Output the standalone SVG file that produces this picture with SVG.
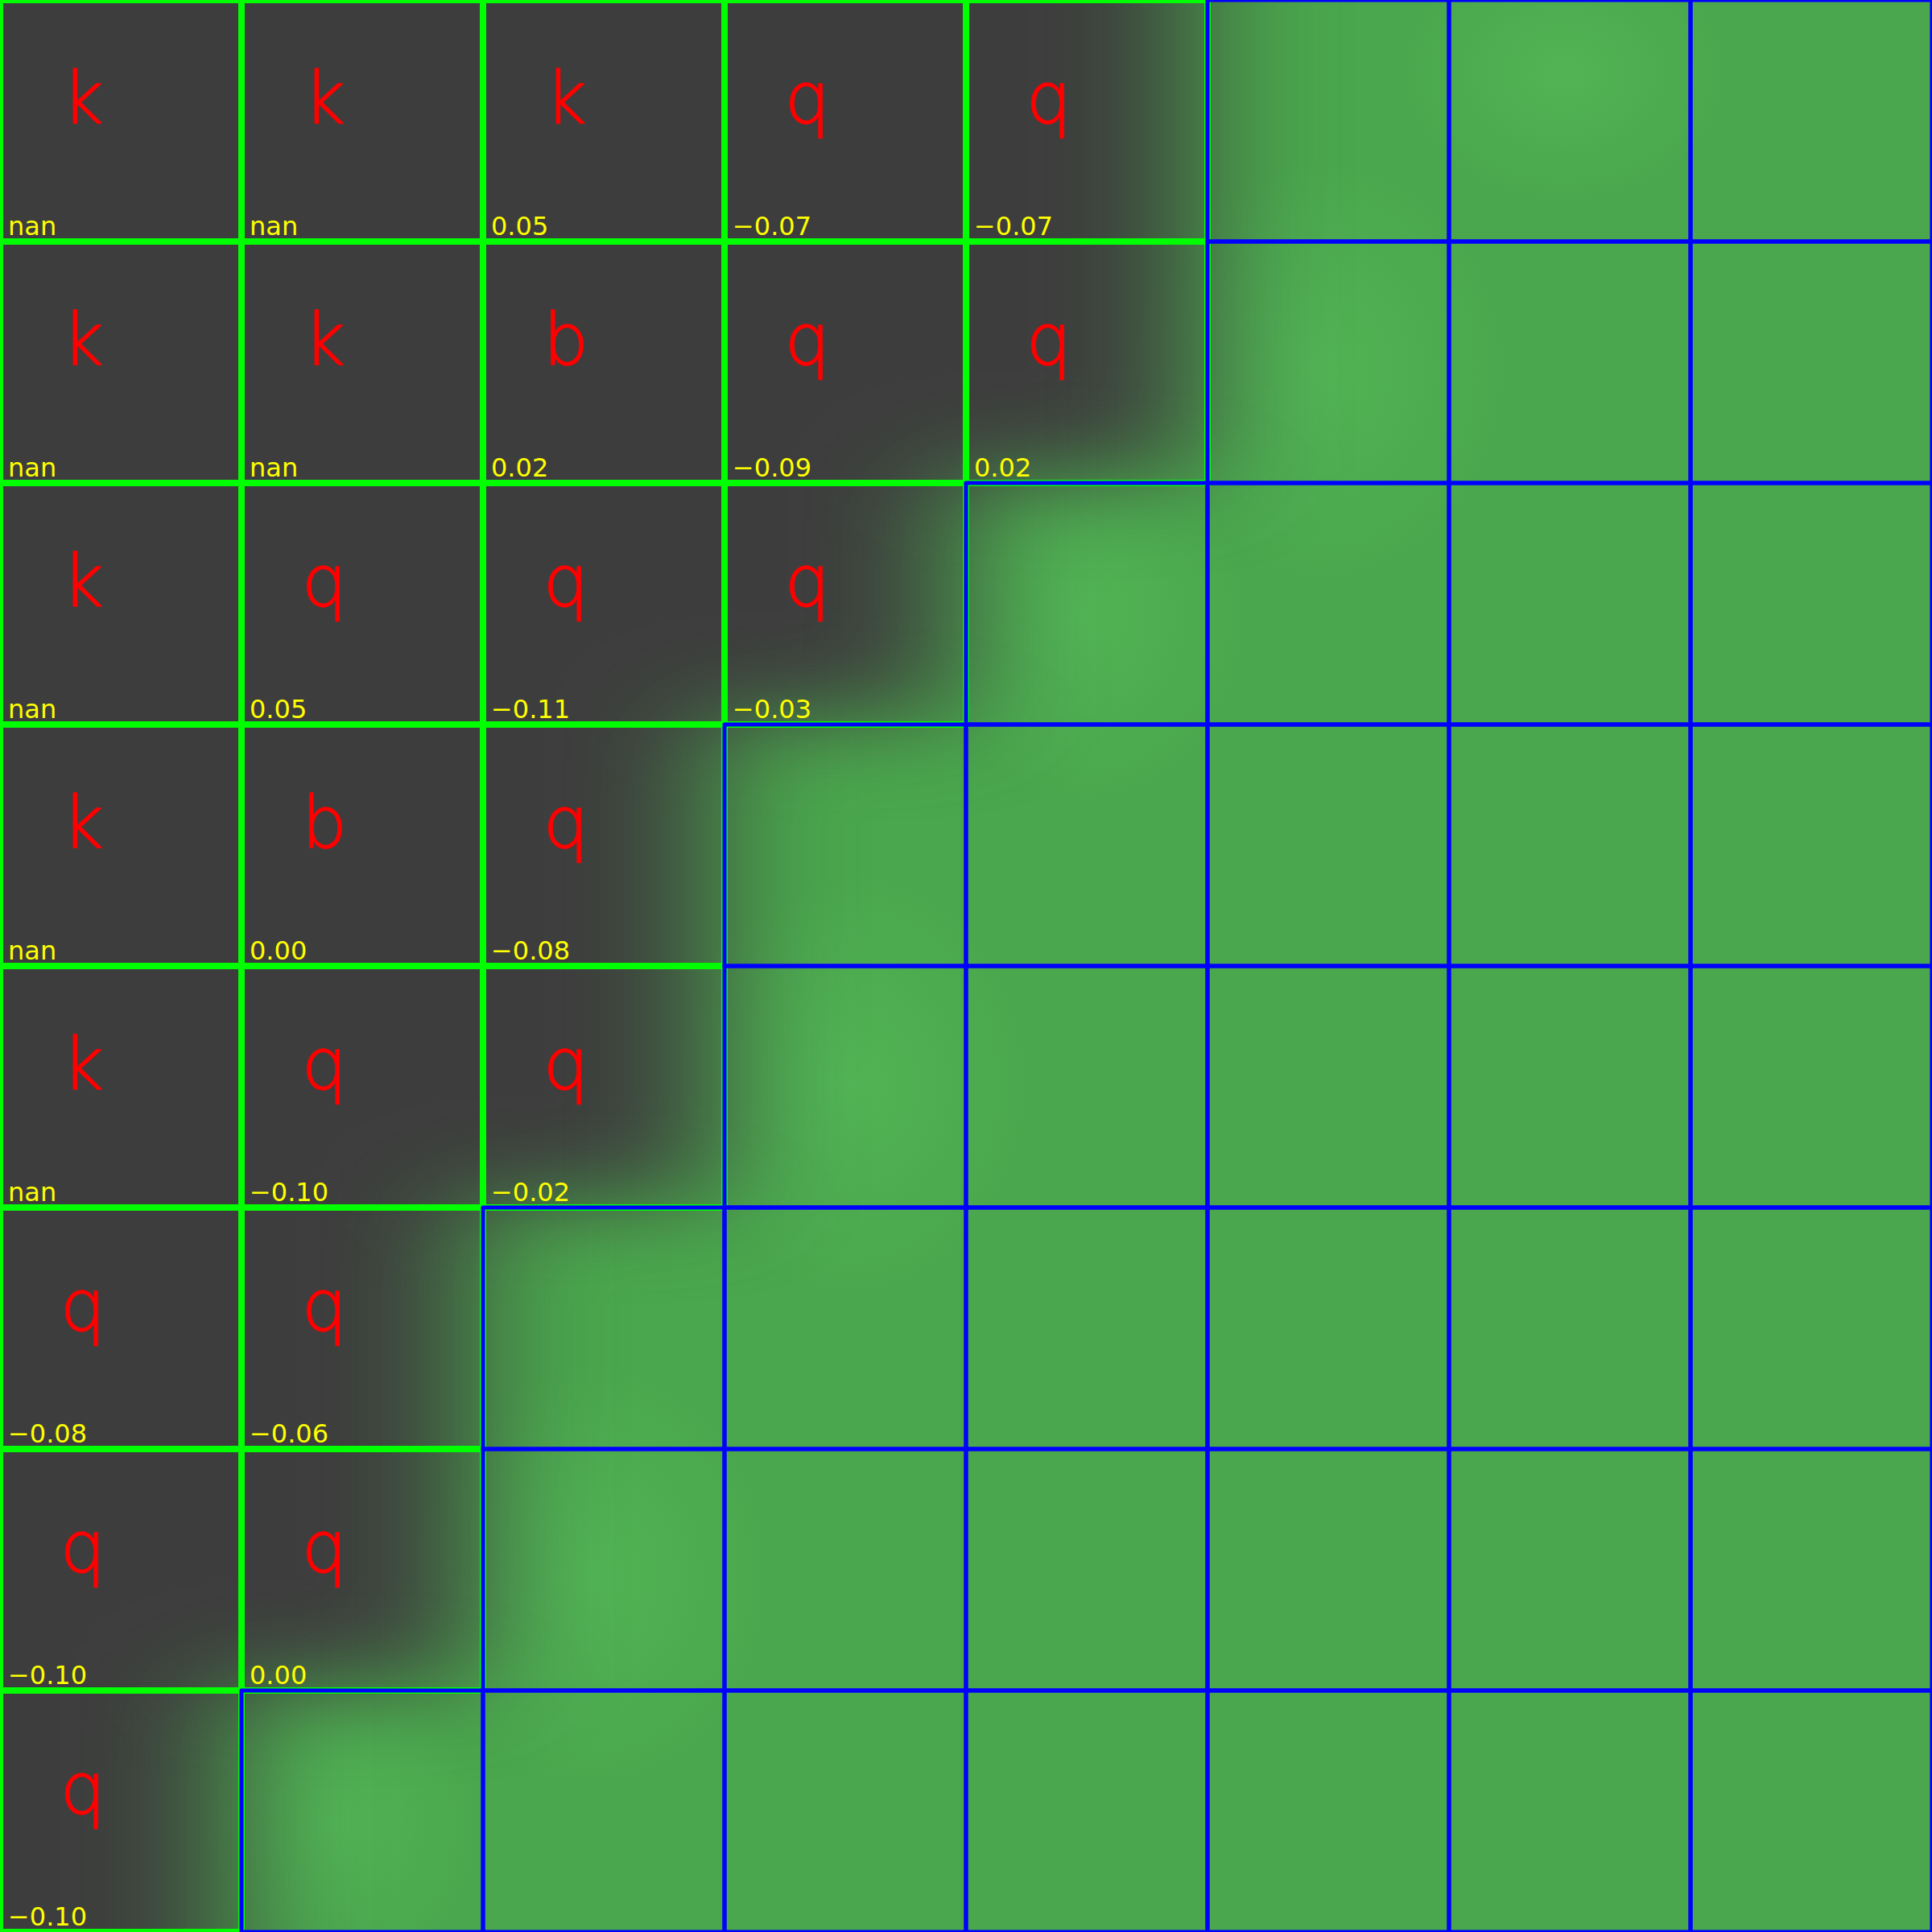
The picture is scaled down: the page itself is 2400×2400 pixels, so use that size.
<svg xmlns="http://www.w3.org/2000/svg" width="2400" height="2400" viewBox="0 0 2400 2400">
<style>
.gc{fill:none;stroke:#00ff00;stroke-width:8}
.bc{fill:none;stroke:#0000ff;stroke-width:5;stroke-linejoin:round}
.lt{font-family:"DejaVu Sans","Open Sans",sans-serif;font-weight:200;font-size:89px;fill:#ff0000;stroke:#ff0000;stroke-width:1.6;stroke-linejoin:round;text-anchor:middle}
.nm{font-family:"DejaVu Sans","Open Sans",sans-serif;font-size:32px;fill:#ffff00}
</style>
<defs>
<filter id="blur" filterUnits="userSpaceOnUse" x="-700" y="-700" width="3800" height="3800" color-interpolation-filters="sRGB">
<feGaussianBlur stdDeviation="85 55"/>
</filter>
<radialGradient id="spot">
<stop offset="0" stop-color="#53b757" stop-opacity="0.8"/>
<stop offset="1" stop-color="#53b757" stop-opacity="0"/>
</radialGradient>
</defs>
<g id="background">
<rect x="0" y="0" width="2400" height="2400" fill="#4aa74d"/>
<ellipse cx="1640" cy="460" rx="230" ry="260" fill="url(#spot)"/>
<ellipse cx="1346" cy="765" rx="200" ry="230" fill="url(#spot)"/>
<ellipse cx="1056" cy="1346" rx="220" ry="260" fill="url(#spot)"/>
<ellipse cx="734" cy="1958" rx="220" ry="260" fill="url(#spot)"/>
<ellipse cx="413" cy="2264" rx="180" ry="200" fill="url(#spot)"/>
<ellipse cx="1943" cy="90" rx="200" ry="160" fill="url(#spot)"/>
<polygon filter="url(#blur)" fill="#3d3d3d" points="-500,-500 1480,-500 1480,590 1180,590 1180,890 880,890 880,1490 580,1490 580,2090 280,2090 280,2900 -500,2900"/>
</g>
<g id="gray-cells">
<g id="c0-0" transform="translate(0,0)"><rect class="gc" width="300" height="300"/><text class="lt" x="103" y="153">k</text><text class="nm" x="10" y="292">nan</text></g>
<g id="c0-1" transform="translate(300,0)"><rect class="gc" width="300" height="300"/><text class="lt" x="103" y="153">k</text><text class="nm" x="10" y="292">nan</text></g>
<g id="c0-2" transform="translate(600,0)"><rect class="gc" width="300" height="300"/><text class="lt" x="103" y="153">k</text><text class="nm" x="10" y="292">0.05</text></g>
<g id="c0-3" transform="translate(900,0)"><rect class="gc" width="300" height="300"/><text class="lt" x="103" y="153">q</text><text class="nm" x="10" y="292">−0.07</text></g>
<g id="c0-4" transform="translate(1200,0)"><rect class="gc" width="300" height="300"/><text class="lt" x="103" y="153">q</text><text class="nm" x="10" y="292">−0.07</text></g>
<g id="c1-0" transform="translate(0,300)"><rect class="gc" width="300" height="300"/><text class="lt" x="103" y="153">k</text><text class="nm" x="10" y="292">nan</text></g>
<g id="c1-1" transform="translate(300,300)"><rect class="gc" width="300" height="300"/><text class="lt" x="103" y="153">k</text><text class="nm" x="10" y="292">nan</text></g>
<g id="c1-2" transform="translate(600,300)"><rect class="gc" width="300" height="300"/><text class="lt" x="103" y="153">b</text><text class="nm" x="10" y="292">0.02</text></g>
<g id="c1-3" transform="translate(900,300)"><rect class="gc" width="300" height="300"/><text class="lt" x="103" y="153">q</text><text class="nm" x="10" y="292">−0.09</text></g>
<g id="c1-4" transform="translate(1200,300)"><rect class="gc" width="300" height="300"/><text class="lt" x="103" y="153">q</text><text class="nm" x="10" y="292">0.02</text></g>
<g id="c2-0" transform="translate(0,600)"><rect class="gc" width="300" height="300"/><text class="lt" x="103" y="153">k</text><text class="nm" x="10" y="292">nan</text></g>
<g id="c2-1" transform="translate(300,600)"><rect class="gc" width="300" height="300"/><text class="lt" x="103" y="153">q</text><text class="nm" x="10" y="292">0.05</text></g>
<g id="c2-2" transform="translate(600,600)"><rect class="gc" width="300" height="300"/><text class="lt" x="103" y="153">q</text><text class="nm" x="10" y="292">−0.11</text></g>
<g id="c2-3" transform="translate(900,600)"><rect class="gc" width="300" height="300"/><text class="lt" x="103" y="153">q</text><text class="nm" x="10" y="292">−0.03</text></g>
<g id="c3-0" transform="translate(0,900)"><rect class="gc" width="300" height="300"/><text class="lt" x="103" y="153">k</text><text class="nm" x="10" y="292">nan</text></g>
<g id="c3-1" transform="translate(300,900)"><rect class="gc" width="300" height="300"/><text class="lt" x="103" y="153">b</text><text class="nm" x="10" y="292">0.00</text></g>
<g id="c3-2" transform="translate(600,900)"><rect class="gc" width="300" height="300"/><text class="lt" x="103" y="153">q</text><text class="nm" x="10" y="292">−0.08</text></g>
<g id="c4-0" transform="translate(0,1200)"><rect class="gc" width="300" height="300"/><text class="lt" x="103" y="153">k</text><text class="nm" x="10" y="292">nan</text></g>
<g id="c4-1" transform="translate(300,1200)"><rect class="gc" width="300" height="300"/><text class="lt" x="103" y="153">q</text><text class="nm" x="10" y="292">−0.10</text></g>
<g id="c4-2" transform="translate(600,1200)"><rect class="gc" width="300" height="300"/><text class="lt" x="103" y="153">q</text><text class="nm" x="10" y="292">−0.02</text></g>
<g id="c5-0" transform="translate(0,1500)"><rect class="gc" width="300" height="300"/><text class="lt" x="103" y="153">q</text><text class="nm" x="10" y="292">−0.08</text></g>
<g id="c5-1" transform="translate(300,1500)"><rect class="gc" width="300" height="300"/><text class="lt" x="103" y="153">q</text><text class="nm" x="10" y="292">−0.06</text></g>
<g id="c6-0" transform="translate(0,1800)"><rect class="gc" width="300" height="300"/><text class="lt" x="103" y="153">q</text><text class="nm" x="10" y="292">−0.10</text></g>
<g id="c6-1" transform="translate(300,1800)"><rect class="gc" width="300" height="300"/><text class="lt" x="103" y="153">q</text><text class="nm" x="10" y="292">0.00</text></g>
<g id="c7-0" transform="translate(0,2100)"><rect class="gc" width="300" height="300"/><text class="lt" x="103" y="153">q</text><text class="nm" x="10" y="292">−0.10</text></g>
</g>
<g id="green-cells">
<g id="c0-5"><rect class="bc" x="1500" y="0" width="300" height="300"/></g>
<g id="c0-6"><rect class="bc" x="1800" y="0" width="300" height="300"/></g>
<g id="c0-7"><rect class="bc" x="2100" y="0" width="300" height="300"/></g>
<g id="c1-5"><rect class="bc" x="1500" y="300" width="300" height="300"/></g>
<g id="c1-6"><rect class="bc" x="1800" y="300" width="300" height="300"/></g>
<g id="c1-7"><rect class="bc" x="2100" y="300" width="300" height="300"/></g>
<g id="c2-4"><rect class="bc" x="1200" y="600" width="300" height="300"/></g>
<g id="c2-5"><rect class="bc" x="1500" y="600" width="300" height="300"/></g>
<g id="c2-6"><rect class="bc" x="1800" y="600" width="300" height="300"/></g>
<g id="c2-7"><rect class="bc" x="2100" y="600" width="300" height="300"/></g>
<g id="c3-3"><rect class="bc" x="900" y="900" width="300" height="300"/></g>
<g id="c3-4"><rect class="bc" x="1200" y="900" width="300" height="300"/></g>
<g id="c3-5"><rect class="bc" x="1500" y="900" width="300" height="300"/></g>
<g id="c3-6"><rect class="bc" x="1800" y="900" width="300" height="300"/></g>
<g id="c3-7"><rect class="bc" x="2100" y="900" width="300" height="300"/></g>
<g id="c4-3"><rect class="bc" x="900" y="1200" width="300" height="300"/></g>
<g id="c4-4"><rect class="bc" x="1200" y="1200" width="300" height="300"/></g>
<g id="c4-5"><rect class="bc" x="1500" y="1200" width="300" height="300"/></g>
<g id="c4-6"><rect class="bc" x="1800" y="1200" width="300" height="300"/></g>
<g id="c4-7"><rect class="bc" x="2100" y="1200" width="300" height="300"/></g>
<g id="c5-2"><rect class="bc" x="600" y="1500" width="300" height="300"/></g>
<g id="c5-3"><rect class="bc" x="900" y="1500" width="300" height="300"/></g>
<g id="c5-4"><rect class="bc" x="1200" y="1500" width="300" height="300"/></g>
<g id="c5-5"><rect class="bc" x="1500" y="1500" width="300" height="300"/></g>
<g id="c5-6"><rect class="bc" x="1800" y="1500" width="300" height="300"/></g>
<g id="c5-7"><rect class="bc" x="2100" y="1500" width="300" height="300"/></g>
<g id="c6-2"><rect class="bc" x="600" y="1800" width="300" height="300"/></g>
<g id="c6-3"><rect class="bc" x="900" y="1800" width="300" height="300"/></g>
<g id="c6-4"><rect class="bc" x="1200" y="1800" width="300" height="300"/></g>
<g id="c6-5"><rect class="bc" x="1500" y="1800" width="300" height="300"/></g>
<g id="c6-6"><rect class="bc" x="1800" y="1800" width="300" height="300"/></g>
<g id="c6-7"><rect class="bc" x="2100" y="1800" width="300" height="300"/></g>
<g id="c7-1"><rect class="bc" x="300" y="2100" width="300" height="300"/></g>
<g id="c7-2"><rect class="bc" x="600" y="2100" width="300" height="300"/></g>
<g id="c7-3"><rect class="bc" x="900" y="2100" width="300" height="300"/></g>
<g id="c7-4"><rect class="bc" x="1200" y="2100" width="300" height="300"/></g>
<g id="c7-5"><rect class="bc" x="1500" y="2100" width="300" height="300"/></g>
<g id="c7-6"><rect class="bc" x="1800" y="2100" width="300" height="300"/></g>
<g id="c7-7"><rect class="bc" x="2100" y="2100" width="300" height="300"/></g>
</g>
</svg>
